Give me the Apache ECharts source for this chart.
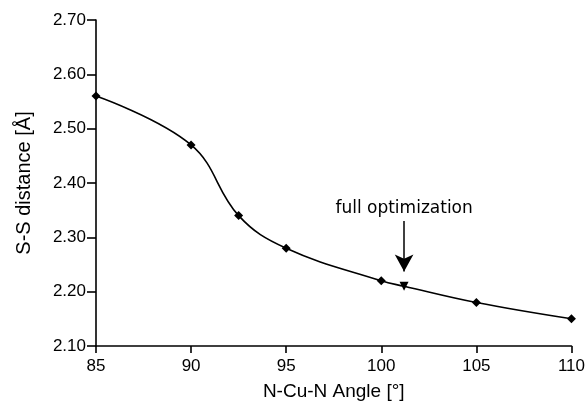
<!DOCTYPE html>
<html>
<head>
<meta charset="utf-8">
<script src="https://cdn.jsdelivr.net/npm/echarts@6/dist/echarts.min.js"></script>
<style>
html,body{margin:0;padding:0;background:#fff;}
#chart{width:588px;height:406px;}
</style>
</head>
<body>
<div id="chart"></div>
<script>
// angle values (deg) and S-S distance (A)
var angles = [85, 90, 92.5, 95, 100, 101.2, 105, 110];
var distances = [2.56, 2.47, 2.34, 2.28, 2.22, 2.21, 2.18, 2.15];
var optIndex = 5; // full optimization point
var arrowFrom = [101.2, 2.33];
var arrowTo = [101.2, 2.237];
var xTicks = [85, 90, 95, 100, 105, 110];
var yTicks = [2.10, 2.20, 2.30, 2.40, 2.50, 2.60, 2.70];

var chart = echarts.init(document.getElementById('chart'));

var pts = [];
for (var i = 0; i < angles.length; i++) {
	var p = { value: [angles[i], distances[i]] };
	if (i == optIndex) {
		p.symbol = 'triangle';
		p.symbolRotate = 180;
		p.symbolSize = 9;
	}
	pts.push(p);
}

var font = 'Liberation Sans, Arial, sans-serif';

chart.setOption({
	animation: false,
	grid: { left: 96, right: 14, top: 20, bottom: 58 },
	xAxis: {
		type: 'value',
		min: xTicks[0], max: xTicks[xTicks.length - 1], interval: 5,
		name: 'N-Cu-N Angle [°]',
		nameLocation: 'middle', nameGap: 36,
		nameTextStyle: { color: '#000', fontSize: 19, fontFamily: font },
		axisLine: { lineStyle: { color: '#000', width: 1.6 } },
		axisTick: { length: 7, lineStyle: { color: '#000', width: 1.6 } },
		axisLabel: { color: '#000', fontSize: 17, fontFamily: font, margin: 12 },
		splitLine: { show: false }
	},
	yAxis: {
		type: 'value',
		min: yTicks[0], max: yTicks[yTicks.length - 1], interval: 0.1,
		name: 'S-S distance [Å]',
		nameLocation: 'middle', nameGap: 62, nameRotate: 90,
		nameTextStyle: { color: '#000', fontSize: 20, fontFamily: font },
		axisLine: { show: true, lineStyle: { color: '#000', width: 1.6 } },
		axisTick: { show: true, length: 9, lineStyle: { color: '#000', width: 1.6 } },
		axisLabel: { color: '#000', fontSize: 17, fontFamily: font, margin: 10,
			formatter: function (v) { return v.toFixed(2); } },
		splitLine: { show: false }
	},
	series: [{
		type: 'line',
		data: pts,
		smooth: 0.4,
		symbol: 'diamond',
		symbolSize: 9,
		showAllSymbol: true,
		lineStyle: { color: '#000', width: 1.6 },
		itemStyle: { color: '#000' },
		markLine: {
			silent: true,
			symbol: ['none', 'arrow'],
			symbolSize: [14, 17],
			lineStyle: { color: '#000', width: 1.5, type: 'solid' },
			label: {
				show: true, position: 'start', formatter: 'full optimization',
				color: '#000', fontSize: 17, fontFamily: 'DejaVu Sans, sans-serif',
				distance: 4
			},
			data: [[{ coord: arrowFrom }, { coord: arrowTo }]]
		}
	}]
});
</script>
</body>
</html>
